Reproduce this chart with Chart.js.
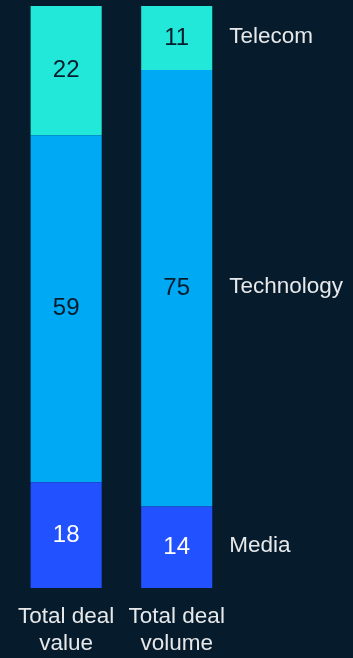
<!DOCTYPE html>
<html>
<head>
<meta charset="utf-8">
<script src="https://cdn.jsdelivr.net/npm/chart.js@4/dist/chart.umd.min.js"></script>
<style>
  html, body { margin: 0; padding: 0; background: #061b2c; }
  #wrap { width: 353px; height: 658px; position: relative; }
</style>
</head>
<body>
<div id="wrap"><canvas id="grafico"></canvas></div>
<script>
// --- dados ---
const categories = [['Total deal', 'value'], ['Total deal', 'volume']];
const seriesNames = ['Media', 'Technology', 'Telecom'];
const media = [18, 14];
const technology = [59, 75];
const telecom = [22, 11];

const seriesValues = [media, technology, telecom];
const seriesColors = ['#2251ff', '#00a9f4', '#22e8d9'];
const valueTextColors = ['#ffffff', '#051c2c', '#051c2c'];
const fontFamily = '"Liberation Sans", Arial, Helvetica, sans-serif';
const fontSize = 22.5;

// cada coluna ocupa a altura toda (participação %)
const totals = categories.map((c, i) => seriesValues.reduce((s, arr) => s + arr[i], 0));

const datasets = seriesValues.map((arr, k) => ({
  label: seriesNames[k],
  data: arr.map((v, i) => v / totals[i] * 100),
  rawValues: arr,
  backgroundColor: seriesColors[k],
  borderWidth: 0,
  barPercentage: 72 / 112,
  categoryPercentage: 1
}));

// rótulos dentro das barras e nomes das séries à direita
const labelPlugin = {
  id: 'rotulos',
  afterDatasetsDraw(chart) {
    const ctx = chart.ctx;
    ctx.save();
    ctx.textBaseline = 'middle';
    chart.data.datasets.forEach((ds, k) => {
      const meta = chart.getDatasetMeta(k);
      meta.data.forEach((el, i) => {
        const cy = (el.y + el.base) / 2;
        ctx.font = '24px ' + fontFamily;
        ctx.fillStyle = valueTextColors[k];
        ctx.textAlign = 'center';
        ctx.fillText(String(ds.rawValues[i]), el.x, cy);
        if (i === meta.data.length - 1) {
          ctx.font = fontSize + 'px ' + fontFamily;
          ctx.fillStyle = '#e6e8ea';
          ctx.textAlign = 'left';
          ctx.fillText(ds.label, el.x + el.width / 2 + 17, cy - 1);
        }
      });
    });
    ctx.restore();
  }
};

new Chart(document.getElementById('grafico'), {
  type: 'bar',
  data: { labels: categories, datasets: datasets },
  options: {
    responsive: true,
    maintainAspectRatio: false,
    animation: false,
    layout: { padding: { left: 8, right: 121, top: 6, bottom: 0 } },
    plugins: { legend: { display: false }, tooltip: { enabled: false } },
    scales: {
      x: {
        stacked: true,
        grid: { display: false, drawTicks: false },
        border: { display: false },
        ticks: {
          color: '#e6e8ea',
          padding: 16,
          font: { family: fontFamily, size: fontSize, lineHeight: 1.18 }
        },
        afterFit(axis) { axis.height = 70; }
      },
      y: {
        stacked: true,
        display: false,
        min: 0,
        max: 100
      }
    }
  },
  plugins: [labelPlugin]
});
</script>
</body>
</html>
